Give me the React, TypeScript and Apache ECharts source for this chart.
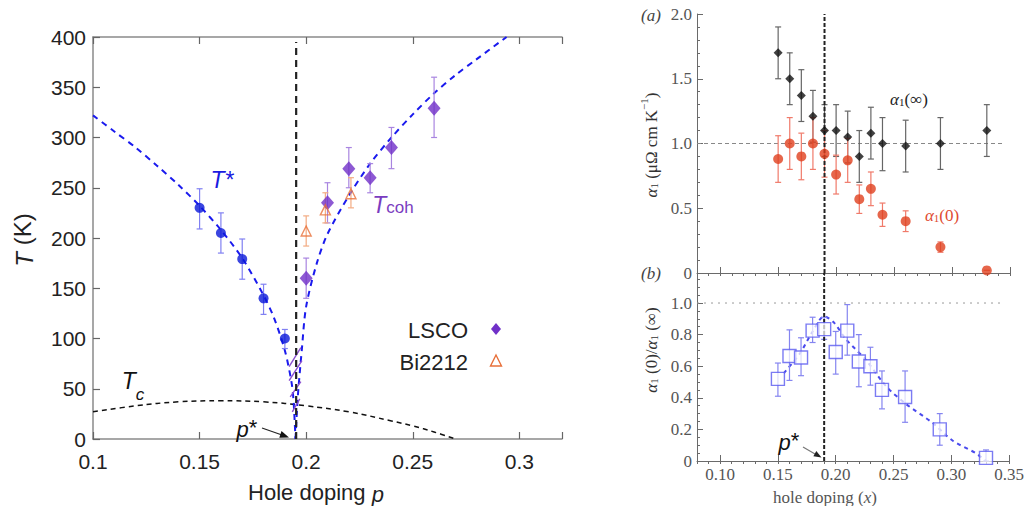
import React, { useEffect, useRef } from 'react';
import * as echarts from 'echarts';

// ---------- Left panel data: [p, T, lo, hi] ----------
const tStarData = [
  [0.15, 230, 209, 249],
  [0.16, 205, 185, 225],
  [0.17, 179, 159, 199],
  [0.18, 140, 124, 154],
  [0.19, 100, 90, 109],
];
const lscoData = [
  [0.2, 160, 140, 180],
  [0.21, 235, 215, 255],
  [0.22, 269, 250, 290],
  [0.23, 260, 245, 274],
  [0.24, 290, 269, 310],
  [0.26, 329, 300, 360],
];
const bi2212Data = [
  [0.2, 207, 192, 222],
  [0.209, 228, 215, 245],
  [0.221, 244, 230, 260],
];
const tStarCurve = [
  [0.1, 322], [0.11, 306], [0.12, 290], [0.13, 272], [0.14, 253], [0.15, 232],
  [0.16, 208], [0.17, 180], [0.18, 143], [0.185, 120], [0.19, 88], [0.193, 58],
  [0.194, 40], [0.195, 0],
];
const tCohCurve = [
  [0.195, 0], [0.196, 40], [0.198, 90], [0.2, 132], [0.205, 175], [0.21, 204],
  [0.22, 242], [0.23, 274], [0.24, 300], [0.25, 323], [0.26, 344], [0.27, 362],
  [0.28, 378], [0.294, 400],
];
const tcDome = [
  [0.1, 27], [0.12, 33], [0.14, 37], [0.16, 38], [0.18, 37], [0.2, 33],
  [0.22, 27], [0.24, 18], [0.25, 13], [0.26, 7], [0.27, 0],
];
const pStarLeft = [[0.1953, 0], [0.1953, 395]];
const hatchSegments = [
  [0.192, 72, 0.1975, 91],
  [0.192, 58, 0.198, 78],
  [0.1925, 42, 0.1975, 57],
  [0.1935, 27, 0.197, 40],
];

// ---------- Right panel (a): [x, alpha, lo, hi] ----------
const alphaInf = [
  [0.15, 1.70, 1.50, 1.90], [0.16, 1.50, 1.30, 1.70], [0.17, 1.37, 1.17, 1.57],
  [0.18, 1.21, 1.01, 1.41], [0.19, 1.10, 0.90, 1.30], [0.20, 1.10, 0.90, 1.30],
  [0.21, 1.05, 0.85, 1.25], [0.22, 0.90, 0.70, 1.10], [0.23, 1.08, 0.88, 1.28],
  [0.24, 1.00, 0.79, 1.20], [0.26, 0.98, 0.78, 1.18], [0.29, 1.00, 0.80, 1.20],
  [0.33, 1.10, 0.90, 1.30],
];
const alphaZero = [
  [0.15, 0.88, 0.70, 1.06], [0.16, 1.00, 0.80, 1.20], [0.17, 0.90, 0.72, 1.08],
  [0.18, 1.00, 0.80, 1.20], [0.19, 0.92, 0.74, 1.10], [0.20, 0.76, 0.61, 0.91],
  [0.21, 0.87, 0.70, 1.04], [0.22, 0.57, 0.46, 0.68], [0.23, 0.65, 0.52, 0.78],
  [0.24, 0.45, 0.36, 0.54], [0.26, 0.40, 0.32, 0.48], [0.29, 0.20, 0.16, 0.24],
  [0.33, 0.02, 0.02, 0.02],
];
// ---------- Right panel (b) ----------
const ratioData = [
  [0.15, 0.52, 0.41, 0.62], [0.16, 0.665, 0.51, 0.83], [0.17, 0.655, 0.54, 0.78],
  [0.18, 0.825, 0.75, 0.91], [0.19, 0.835, 0.77, 0.91], [0.20, 0.69, 0.55, 0.82],
  [0.21, 0.825, 0.67, 0.99], [0.22, 0.63, 0.47, 0.80], [0.23, 0.60, 0.48, 0.72],
  [0.24, 0.45, 0.33, 0.57], [0.26, 0.405, 0.245, 0.57], [0.29, 0.20, 0.10, 0.30],
  [0.33, 0.02, 0.0, 0.07],
];
const ratioCurve = [
  [0.155, 0.555], [0.169, 0.68], [0.18, 0.82], [0.19, 0.915], [0.198, 0.88],
  [0.209, 0.77], [0.226, 0.64], [0.244, 0.47], [0.261, 0.36], [0.284, 0.24],
  [0.301, 0.13], [0.321, 0.05], [0.33, 0.0],
];
const refLineA = [[0.08, 1.0], [0.345, 1.0]];
const refLineB = [[0.08, 1.0], [0.345, 1.0]];
const pStarA = [[0.19, 0], [0.19, 2.0]];
const pStarB = [[0.19, 0], [0.19, 1.19]];

const SANS = "'Liberation Sans', Arial, sans-serif";
const SERIF = "'Liberation Serif', 'Times New Roman', serif";

function errSeries(data: number[][], color: string, xi: number, yi: number, cap = 3, width = 1.2) {
  return {
    type: 'custom',
    xAxisIndex: xi,
    yAxisIndex: yi,
    z: 2,
    silent: true,
    data,
    encode: { x: 0, y: [1, 2, 3] },
    renderItem: (params: any, api: any) => {
      const x = api.value(0);
      const lo = api.coord([x, api.value(2)]);
      const hi = api.coord([x, api.value(3)]);
      const st = { stroke: color, lineWidth: width };
      return {
        type: 'group',
        children: [
          { type: 'line', shape: { x1: lo[0], y1: lo[1], x2: hi[0], y2: hi[1] }, style: st },
          { type: 'line', shape: { x1: lo[0] - cap, y1: lo[1], x2: lo[0] + cap, y2: lo[1] }, style: st },
          { type: 'line', shape: { x1: hi[0] - cap, y1: hi[1], x2: hi[0] + cap, y2: hi[1] }, style: st },
        ],
      };
    },
  };
}

function lineSeries(data: number[][], color: string, width: number, dash: number[], xi: number, yi: number, smooth: number | boolean = false, z = 1) {
  return {
    type: 'line',
    xAxisIndex: xi,
    yAxisIndex: yi,
    data,
    symbol: 'none',
    showSymbol: false,
    smooth,
    silent: true,
    z,
    lineStyle: { color, width, type: dash },
  };
}

function scatter(data: number[][], symbol: string, size: any, itemStyle: any, xi: number, yi: number) {
  return {
    type: 'scatter',
    xAxisIndex: xi,
    yAxisIndex: yi,
    data: data.map((d) => [d[0], d[1]]),
    symbol,
    symbolSize: size,
    itemStyle,
    z: 4,
    silent: true,
  };
}

const isMult = (v: number, step: number) => Math.abs(v / step - Math.round(v / step)) < 1e-6;

function txt(x: number, y: number, text: string, extra: any = {}, rich?: any, rotation = 0) {
  const style: any = {
    text,
    fontSize: 16,
    fill: '#222',
    align: 'center',
    verticalAlign: 'middle',
    textAlign: 'center',
    textVerticalAlign: 'middle',
    ...extra,
  };
  if (rich) style.rich = rich;
  return { type: 'text', x, y, rotation, style, z: 10 };
}

export default function App() {
  const ref = useRef<HTMLDivElement>(null);
  useEffect(() => {
    if (!ref.current) return;
    const chart = echarts.init(ref.current, null, { renderer: 'svg' });

    const leftAxisLine = { show: true, onZero: false, lineStyle: { color: '#8a8a8a', width: 1.5 } };
    const leftTick = { show: true, inside: true, length: 7, lineStyle: { color: '#666', width: 1.2 } };
    const leftLabel = { fontSize: 21, color: '#222', fontFamily: SANS };

    const rAxisLine = { show: true, onZero: false, lineStyle: { color: '#6a6a6a', width: 1 } };
    const rTick = { show: true, inside: true, length: 6, lineStyle: { color: '#6a6a6a', width: 1 } };
    const rMinor = { show: true, splitNumber: 5, length: 3, lineStyle: { color: '#6a6a6a', width: 1 } };
    const rLabel = { fontSize: 17, color: '#555', fontFamily: SERIF };

    const subRich = (size: number, color: string, fam: string) => ({
      a: { fontSize: size, fontStyle: 'italic', fontFamily: fam, fill: color, color, lineHeight: size + 4, verticalAlign: 'bottom' },
      s: { fontSize: Math.round(size * 0.65), fontFamily: fam, fill: color, color, lineHeight: Math.round(size * 0.7), verticalAlign: 'bottom' },
      p: { fontSize: Math.round(size * 0.65), fontFamily: fam, fill: color, color, lineHeight: Math.round(size * 0.7), verticalAlign: 'top' },
      n: { fontSize: size, fontFamily: fam, fill: color, color, lineHeight: size + 4, verticalAlign: 'bottom' },
      i: { fontSize: size, fontFamily: fam, fontStyle: 'italic', fill: color, color, lineHeight: size + 4, verticalAlign: 'bottom' },
    });

    const option: any = {
      animation: false,
      backgroundColor: '#ffffff',
      grid: [
        { left: 93, top: 37, width: 469, height: 402 },
        { left: 697, top: 14, width: 313, height: 259 },
        { left: 697, top: 273, width: 313, height: 188 },
      ],
      xAxis: [
        {
          gridIndex: 0, type: 'value', min: 0.1, max: 0.32, interval: 0.05,
          axisLine: leftAxisLine, axisTick: leftTick, splitLine: { show: false },
          axisLabel: { ...leftLabel, margin: 12, formatter: (v: number) => (isMult(v, 0.05) ? String(Number(v.toFixed(2))) : '') },
        },
        {
          gridIndex: 0, type: 'value', position: 'top', min: 0.1, max: 0.32, interval: 0.05,
          axisLine: leftAxisLine, axisTick: leftTick, splitLine: { show: false }, axisLabel: { show: false },
        },
        {
          gridIndex: 1, type: 'value', min: 0.08, max: 0.35, splitNumber: 5,
          axisLine: rAxisLine, axisTick: rTick, splitLine: { show: false }, axisLabel: { show: false },
        },
        {
          gridIndex: 1, type: 'value', min: 0.08, max: 0.35, interval: 0.01,
          axisLine: { show: false }, axisTick: { ...rTick, length: 3 }, splitLine: { show: false }, axisLabel: { show: false },
        },
        {
          gridIndex: 2, type: 'value', min: 0.08, max: 0.35, splitNumber: 5,
          axisLine: rAxisLine, axisTick: rTick, splitLine: { show: false },
          axisLabel: { ...rLabel, margin: 5, formatter: (v: number) => (v > 0.0999 && isMult(v, 0.05) ? v.toFixed(2) : '') },
        },
        {
          gridIndex: 2, type: 'value', min: 0.08, max: 0.35, interval: 0.01,
          axisLine: { show: false }, axisTick: { ...rTick, length: 3 }, splitLine: { show: false }, axisLabel: { show: false },
        },
      ],
      yAxis: [
        {
          gridIndex: 0, type: 'value', min: 0, max: 400, interval: 50,
          axisLine: leftAxisLine, axisTick: leftTick, splitLine: { show: false },
          axisLabel: { ...leftLabel, margin: 7 },
        },
        {
          gridIndex: 1, type: 'value', min: 0, max: 2, interval: 0.5,
          axisLine: rAxisLine, axisTick: rTick, minorTick: rMinor, splitLine: { show: false },
          axisLabel: { ...rLabel, margin: 5, formatter: (v: number) => (v === 0 ? '0' : v.toFixed(1)) },
        },
        {
          gridIndex: 2, type: 'value', min: 0, max: 1.19, interval: 0.2,
          axisLine: rAxisLine, axisTick: rTick, minorTick: { ...rMinor, splitNumber: 4 }, splitLine: { show: false },
          axisLabel: { ...rLabel, margin: 5, formatter: (v: number) => (v > 1.05 ? '' : v === 0 ? '0' : v.toFixed(1)) },
        },
      ],
      series: [
        // left panel curves
        lineSeries(tcDome, '#111', 1.5, [5, 4], 0, 0, 0.4),
        lineSeries(tStarCurve, '#1a1aee', 2, [6, 5], 0, 0, 0.3),
        lineSeries(tCohCurve, '#1a1aee', 2, [6, 5], 0, 0, 0.3),
        lineSeries(pStarLeft, '#222', 2.2, [7, 5], 0, 0, false, 3),
        {
          type: 'custom', xAxisIndex: 0, yAxisIndex: 0, z: 3, silent: true,
          data: hatchSegments, encode: { x: [0, 2], y: [1, 3] },
          renderItem: (params: any, api: any) => {
            const a = api.coord([api.value(0), api.value(1)]);
            const b = api.coord([api.value(2), api.value(3)]);
            return { type: 'line', shape: { x1: a[0], y1: a[1], x2: b[0], y2: b[1] }, style: { stroke: '#8a4fd0', lineWidth: 1.4 } };
          },
        },
        errSeries(tStarData, '#8080f2', 0, 0),
        errSeries(lscoData, '#a985e0', 0, 0),
        errSeries(bi2212Data, '#f3ab82', 0, 0),
        scatter(tStarData, 'circle', 10, { color: '#0a18d8' }, 0, 0),
        scatter(lscoData, 'diamond', [13, 15], { color: '#7030c8' }, 0, 0),
        scatter(bi2212Data, 'triangle', 10, { color: 'rgba(255,255,255,0)', borderColor: '#e8703a', borderWidth: 1.4 }, 0, 0),

        // panel (a)
        lineSeries(refLineA, '#888', 1, [4, 3], 2, 1),
        lineSeries(pStarA, '#222', 2, [4, 2], 2, 1, false, 3),
        errSeries(alphaInf, '#666', 2, 1, 3, 1.2),
        errSeries(alphaZero, '#f07a6a', 2, 1, 3, 1.2),
        scatter(alphaInf, 'diamond', 9, { color: '#111' }, 2, 1),
        scatter(alphaZero, 'circle', 10, { color: '#e0401e' }, 2, 1),

        // panel (b)
        lineSeries(refLineB, '#999', 1, [2, 5], 4, 2),
        lineSeries(pStarB, '#222', 2, [4, 2], 4, 2, false, 3),
        lineSeries(ratioCurve, '#4a4aee', 2, [4, 4], 4, 2, 0.3),
        errSeries(ratioData, '#8585f0', 4, 2, 3, 1.2),
        scatter(ratioData, 'rect', 13, { color: 'rgba(255,255,255,0.9)', borderColor: '#5a5af0', borderWidth: 1.4 }, 4, 2),
      ],
      graphic: [
        // left panel labels
        txt(22, 240, '{i|T} (K)', { fontSize: 24, fontFamily: SANS, fill: '#222' }, subRich(24, '#222', SANS), Math.PI / 2),
        txt(316, 492, 'Hole doping {i|p}', { fontSize: 22, fontFamily: SANS, fill: '#222' }, subRich(22, '#222', SANS)),
        txt(222, 180, 'T*', { fontSize: 23, fontStyle: 'italic', fontFamily: SANS, fill: '#1a1ae0' }),
        txt(393, 203, '{a|T}{s|coh}', { fontSize: 22, fontFamily: SANS, fill: '#7a3cc0' }, {
          a: { fontSize: 23, fontStyle: 'italic', fontFamily: SANS, fill: '#7a3cc0', color: '#7a3cc0', lineHeight: 26, verticalAlign: 'bottom' },
          s: { fontSize: 17, fontFamily: SANS, fill: '#7a3cc0', color: '#7a3cc0', lineHeight: 20, verticalAlign: 'bottom' },
        }),
        txt(133, 386, '{a|T}{s|c}', { fontSize: 22, fontFamily: SANS, fill: '#111' }, {
          a: { fontSize: 23, fontStyle: 'italic', fontFamily: SANS, fill: '#111', color: '#111', lineHeight: 34, verticalAlign: 'top' },
          s: { fontSize: 17, fontStyle: 'italic', fontFamily: SANS, fill: '#111', color: '#111', lineHeight: 20, verticalAlign: 'bottom' },
        }),
        txt(247, 427, '{i|p}*', { fontSize: 22, fontFamily: SANS, fill: '#111' }, subRich(22, '#111', SANS)),
        { type: 'line', shape: { x1: 262, y1: 428, x2: 282, y2: 435 }, style: { stroke: '#222', lineWidth: 1.2 }, z: 10 },
        { type: 'polygon', shape: { points: [[289, 437.5], [279.3, 437.7], [281.5, 431.1]] }, style: { fill: '#111' }, z: 10 },
        txt(468, 330, 'LSCO', { fontSize: 22, fontFamily: SANS, fill: '#222', align: 'right', textAlign: 'right' }),
        txt(468, 362, 'Bi2212', { fontSize: 22, fontFamily: SANS, fill: '#222', align: 'right', textAlign: 'right' }),
        { type: 'polygon', shape: { points: [[496, 323], [501, 329], [496, 335], [491, 329]] }, style: { fill: '#7030c8' }, z: 10 },
        { type: 'polygon', shape: { points: [[496, 355], [501.5, 366], [490.5, 366]] }, style: { fill: 'none', stroke: '#e8703a', lineWidth: 1.4 }, z: 10 },

        // right panel labels
        txt(651, 15, '(a)', { fontSize: 17, fontStyle: 'italic', fontFamily: SERIF, fill: '#444' }),
        txt(651, 273, '(b)', { fontSize: 17, fontStyle: 'italic', fontFamily: SERIF, fill: '#444' }),
        txt(649, 145, '{a|α}{s|1}{n| (μΩ cm K}{p|−1}{n|)}', { fontSize: 17, fontFamily: SERIF, fill: '#333' }, subRich(17, '#333', SERIF), Math.PI / 2),
        txt(649, 350, '{a|α}{s|1}{n| (0)/}{a|α}{s|1}{n| (∞)}', { fontSize: 17, fontFamily: SERIF, fill: '#333' }, subRich(17, '#333', SERIF), Math.PI / 2),
        txt(909, 97, '{a|α}{s|1}{n|(∞)}', { fontSize: 17, fontFamily: SERIF, fill: '#222' }, subRich(17, '#222', SERIF)),
        txt(942, 213, '{a|α}{s|1}{n|(0)}', { fontSize: 17, fontFamily: SERIF, fill: '#e04a30' }, subRich(17, '#e04a30', SERIF)),
        txt(825, 495, '{n|hole doping (}{a|x}{n|)}', { fontSize: 17, fontFamily: SERIF, fill: '#555' }, subRich(17, '#555', SERIF)),
        txt(789, 440, '{i|p}*', { fontSize: 22, fontFamily: SANS, fill: '#111' }, subRich(22, '#111', SANS)),
        { type: 'line', shape: { x1: 803, y1: 447, x2: 815, y2: 454 }, style: { stroke: '#777', lineWidth: 1.2 }, z: 10 },
        { type: 'polygon', shape: { points: [[821.5, 457.5], [813.4, 456.2], [816.3, 451.0]] }, style: { fill: '#222' }, z: 10 },
      ],
    };
    chart.setOption(option);
    return () => chart.dispose();
  }, []);
  return <div ref={ref} style={{ position: 'absolute', left: 0, top: 0, width: 1027, height: 506 }} />;
}
